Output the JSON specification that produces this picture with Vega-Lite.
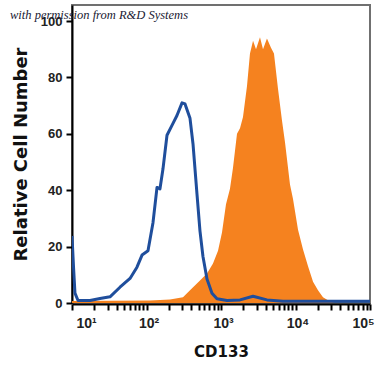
{
  "$schema": "https://vega.github.io/schema/vega-lite/v6.json",
  "width": 298,
  "height": 298,
  "autosize": {"type": "none"},
  "padding": {"left": 72, "top": 5, "right": 5, "bottom": 72},
  "background": "white",
  "title": {
    "text": "with permission from R&D Systems",
    "anchor": "start",
    "frame": "group",
    "orient": "top",
    "offset": 0,
    "dx": -62,
    "dy": 26,
    "baseline": "alphabetic",
    "font": "Liberation Serif",
    "fontStyle": "italic",
    "fontWeight": "normal",
    "fontSize": 12.5,
    "color": "#1a1a33"
  },
  "config": {
    "view": {"stroke": "#707070", "strokeWidth": 2}
  },
  "layer": [
    {
      "data": {
        "values": [
          {"x": 10, "y": 0.7}, {"x": 111.4, "y": 0.9}, {"x": 206.5, "y": 1.2}, {"x": 309, "y": 2},
          {"x": 383.7, "y": 4.5}, {"x": 522.4, "y": 8}, {"x": 648.6, "y": 10.5}, {"x": 781, "y": 14},
          {"x": 912, "y": 18.5}, {"x": 1031, "y": 25}, {"x": 1167, "y": 35}, {"x": 1320, "y": 40.5},
          {"x": 1449, "y": 48}, {"x": 1640, "y": 60}, {"x": 1799, "y": 62}, {"x": 1974, "y": 66},
          {"x": 2234, "y": 77}, {"x": 2449, "y": 88.5}, {"x": 2692, "y": 93}, {"x": 2951, "y": 90},
          {"x": 3337, "y": 94.3}, {"x": 3664, "y": 90}, {"x": 4140, "y": 93.8}, {"x": 4688, "y": 90.5},
          {"x": 5140, "y": 88.5}, {"x": 5821, "y": 76}, {"x": 6592, "y": 64.6}, {"x": 7228, "y": 57},
          {"x": 8433, "y": 42}, {"x": 9247, "y": 37}, {"x": 10810, "y": 26}, {"x": 12620, "y": 19},
          {"x": 14730, "y": 13}, {"x": 17190, "y": 7.5}, {"x": 20040, "y": 4.5}, {"x": 23380, "y": 2},
          {"x": 29040, "y": 0.5}, {"x": 33880, "y": 0}, {"x": 100000, "y": 0}
        ]
      },
      "mark": {"type": "area", "color": "#F5821F", "opacity": 1, "clip": true},
      "encoding": {
        "x": {
          "field": "x", "type": "quantitative",
          "scale": {"type": "log", "domain": [10, 100000], "nice": false},
          "axis": {
            "title": "CD133",
            "titleFont": "DejaVu Sans",
            "titleFontWeight": "bold",
            "titleFontSize": 15,
            "titleColor": "#111",
            "titlePadding": 14,
            "grid": false,
            "domainColor": "#000",
            "domainWidth": 2,
            "ticks": true,
            "tickColor": "#000000",
            "tickWidth": 2,
            "tickSize": 6,
            "tickOpacity": 1,
            "labelFont": "Liberation Sans",
            "labelFontWeight": "bold",
            "labelFontSize": 14,
            "labelColor": "#222",
            "values": [10,20,30,40,50,60,70,80,90,100,200,300,400,500,600,700,800,900,1000,2000,3000,4000,5000,6000,7000,8000,9000,10000,20000,30000,40000,50000,60000,70000,80000,90000,100000],
            "labelExpr": "datum.value == 10 ? '10¹' : datum.value == 100 ? '10²' : datum.value == 1000 ? '10³' : datum.value == 10000 ? '10⁴' : datum.value == 100000 ? '10⁵' : ''",
            "labelPadding": 6,
            "labelFlush": false,
            "labelOverlap": false,
            "offset": 1,
            "labelOffset": {"condition": [{"test": "datum.value == 10", "value": 14}, {"test": "datum.value == 100000", "value": -7}], "value": 2}
          }
        },
        "y": {
          "field": "y", "type": "quantitative",
          "scale": {"domain": [0, 105.7], "nice": false, "zero": false},
          "axis": {
            "title": "Relative Cell Number",
            "titleFont": "DejaVu Sans",
            "titleFontWeight": "bold",
            "titleFontSize": 18,
            "titleColor": "#111",
            "titlePadding": 10,
            "grid": false,
            "domainColor": "#000",
            "domainWidth": 2,
            "ticks": true,
            "tickColor": "#000000",
            "tickWidth": 2,
            "tickSize": 6,
            "tickOpacity": 1,
            "labelFont": "Liberation Sans",
            "labelFontWeight": "bold",
            "labelFontSize": 13,
            "labelColor": "#222",
            "values": [0,5,10,15,20,25,30,35,40,45,50,55,60,65,70,75,80,85,90,95,100],
            "labelExpr": "datum.value % 20 == 0 ? datum.label : ''",
            "labelPadding": 4,
            "labelFlush": false,
            "labelOverlap": false
          }
        }
      }
    },
    {
      "data": {
        "values": [
          {"x": 10, "y": 23.8}, {"x": 10.47, "y": 13}, {"x": 10.96, "y": 3.5}, {"x": 12.05, "y": 0.9},
          {"x": 17.46, "y": 0.9}, {"x": 23.77, "y": 1.6}, {"x": 32.36, "y": 2.2}, {"x": 44.06, "y": 5.6},
          {"x": 60.12, "y": 8.7}, {"x": 74.47, "y": 12.7}, {"x": 87.1, "y": 17}, {"x": 104.7, "y": 18.5},
          {"x": 122.2, "y": 28.5}, {"x": 138.4, "y": 41}, {"x": 151.7, "y": 40.5}, {"x": 166.3, "y": 47.5},
          {"x": 188.4, "y": 59.5}, {"x": 219.8, "y": 63}, {"x": 256.4, "y": 66.5}, {"x": 299.9, "y": 71},
          {"x": 328.9, "y": 70.6}, {"x": 383.7, "y": 65.5}, {"x": 420.7, "y": 56.5}, {"x": 476.4, "y": 38.5},
          {"x": 522.4, "y": 25.5}, {"x": 572.8, "y": 16.5}, {"x": 648.6, "y": 8.5}, {"x": 756.8, "y": 3.5},
          {"x": 883.1, "y": 1.5}, {"x": 1205, "y": 0.9}, {"x": 1799, "y": 1.1}, {"x": 2692, "y": 2.4},
          {"x": 4140, "y": 1.1}, {"x": 6792, "y": 0.6}, {"x": 100000, "y": 0.6}
        ]
      },
      "mark": {"type": "line", "color": "#1F4E9C", "strokeWidth": 3, "clip": true, "strokeJoin": "round"},
      "encoding": {
        "x": {"field": "x", "type": "quantitative"},
        "y": {"field": "y", "type": "quantitative"}
      }
    }
  ]
}
